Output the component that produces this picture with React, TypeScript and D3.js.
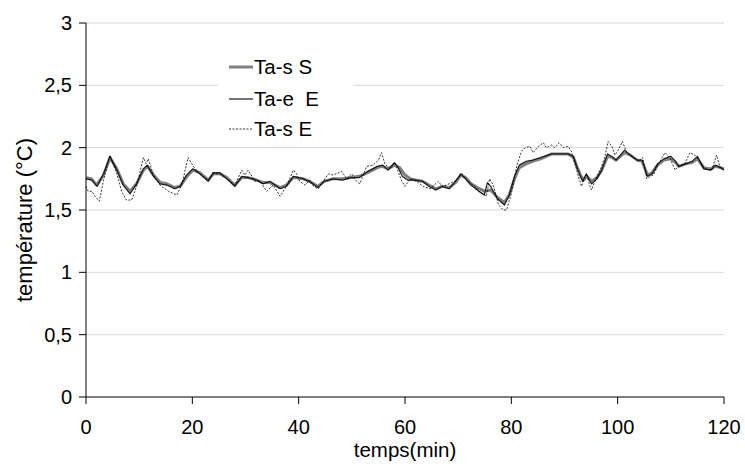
import React from 'react';
import * as d3 from 'd3';

const xTicks = [0, 20, 40, 60, 80, 100, 120];
const yTicks = [0, 0.5, 1, 1.5, 2, 2.5, 3];
const yTickLabels = ['0', '0,5', '1', '1,5', '2', '2,5', '3'];
const seriesNames = ['Ta-s S', 'Ta-e  E', 'Ta-s E'];

// Ta-s S (thick grey)
const tasSTime = [0, 1, 2, 3.3, 4.5, 5.8, 7, 8.3, 9.5, 10.8, 11.6, 12.7, 14, 15.2, 16.7, 17.7, 19, 20.1, 21.4, 23, 24, 25.2, 26.5, 28, 29.3, 30.5, 32.1, 33.3, 34.6, 36.5, 37.7, 39, 40.9, 42, 43.6, 44.8, 46.4, 48.3, 49.8, 51.4, 53, 54.8, 55.8, 56.8, 58, 59, 60, 61, 62, 63.3, 64.5, 65.8, 67, 68.3, 69.5, 70.5, 71.4, 72.4, 73.6, 75, 76.1, 77.4, 78.7, 79.6, 80.6, 81.5, 82.8, 84, 85.5, 87.6, 89.2, 90.7, 91.7, 92.3, 93, 93.6, 94.2, 95.1, 96.1, 97, 98.1, 99, 99.7, 100.5, 101.3, 102.4, 103.7, 104.6, 105.6, 106.5, 107.5, 108.7, 110, 110.9, 111.5, 112.8, 114, 115, 116.2, 117.5, 118.4, 119.3, 120];
const tasSValue = [1.76, 1.75, 1.70, 1.78, 1.92, 1.83, 1.71, 1.65, 1.71, 1.82, 1.85, 1.78, 1.72, 1.71, 1.68, 1.69, 1.77, 1.82, 1.80, 1.74, 1.79, 1.79, 1.76, 1.70, 1.76, 1.76, 1.74, 1.72, 1.72, 1.68, 1.70, 1.76, 1.75, 1.73, 1.69, 1.73, 1.75, 1.75, 1.76, 1.77, 1.80, 1.84, 1.85, 1.83, 1.86, 1.84, 1.78, 1.75, 1.74, 1.73, 1.70, 1.67, 1.69, 1.68, 1.72, 1.78, 1.76, 1.71, 1.68, 1.65, 1.66, 1.60, 1.56, 1.62, 1.75, 1.84, 1.87, 1.89, 1.91, 1.95, 1.95, 1.95, 1.92, 1.85, 1.78, 1.74, 1.77, 1.73, 1.76, 1.82, 1.93, 1.92, 1.90, 1.93, 1.96, 1.94, 1.90, 1.89, 1.78, 1.80, 1.86, 1.90, 1.91, 1.88, 1.85, 1.87, 1.88, 1.91, 1.84, 1.83, 1.85, 1.84, 1.83];

// Ta-e E (thin dark)
const taeETime = [0, 1.1, 2.1, 3.3, 4.5, 5.8, 7, 8.3, 9.5, 10.8, 11.5, 12.7, 13.9, 15.2, 16.7, 17.7, 18.9, 20.1, 21.4, 23, 23.9, 25.2, 26.5, 28, 29.3, 30.5, 32.1, 33.3, 34.6, 36.5, 37.7, 39, 40.9, 42, 43.6, 44.8, 46.4, 48.3, 49.8, 51.4, 53, 54.8, 55.8, 56.8, 58, 58.6, 59.5, 60.5, 62, 63.3, 64.5, 65.8, 67, 68.3, 69.5, 70.5, 71.4, 72.4, 73.6, 74.9, 75.5, 76.1, 77.4, 78.7, 79.6, 80.6, 81.5, 82.8, 84, 85.5, 87.6, 89.2, 90.7, 91.7, 92.3, 93, 93.4, 94.1, 94.8, 95.1, 96.1, 97, 98.1, 98.9, 99.7, 100.5, 101.3, 102.4, 103.7, 104.6, 105.6, 106.5, 107.5, 108.7, 110, 110.9, 111.5, 112.8, 114, 115, 116.2, 117.5, 118.4, 119.3, 120];
const taeEValue = [1.75, 1.74, 1.69, 1.79, 1.93, 1.82, 1.70, 1.63, 1.71, 1.83, 1.86, 1.77, 1.71, 1.70, 1.67, 1.69, 1.78, 1.83, 1.79, 1.73, 1.80, 1.80, 1.75, 1.69, 1.77, 1.76, 1.74, 1.71, 1.73, 1.67, 1.69, 1.77, 1.75, 1.73, 1.68, 1.73, 1.75, 1.74, 1.76, 1.76, 1.81, 1.85, 1.86, 1.82, 1.88, 1.85, 1.77, 1.74, 1.74, 1.73, 1.69, 1.66, 1.69, 1.67, 1.73, 1.79, 1.75, 1.70, 1.66, 1.62, 1.72, 1.69, 1.59, 1.54, 1.62, 1.77, 1.86, 1.89, 1.90, 1.92, 1.95, 1.95, 1.95, 1.93, 1.85, 1.77, 1.73, 1.79, 1.73, 1.71, 1.75, 1.82, 1.95, 1.93, 1.90, 1.94, 1.98, 1.94, 1.90, 1.90, 1.77, 1.79, 1.87, 1.91, 1.93, 1.89, 1.85, 1.87, 1.89, 1.93, 1.83, 1.82, 1.86, 1.84, 1.82];

// Ta-s E (dashed)
const tasETime = [0, 0.4, 1.1, 1.7, 2.5, 3.3, 4.5, 5.8, 6.7, 7.6, 8.6, 9.5, 10.8, 11.3, 11.7, 12.7, 13.9, 15.5, 17.1, 18, 19.2, 20.2, 21.4, 23, 23.9, 25.2, 26.5, 28, 29.3, 29.9, 30.5, 31.8, 32.7, 34, 35.2, 36.5, 37.7, 39, 39.6, 40.2, 41.2, 42.1, 42.8, 43.7, 44.6, 45.6, 46.5, 48.1, 49, 50, 50.9, 51.5, 52.8, 54, 55, 55.6, 56.2, 57.2, 58.1, 59.4, 60, 61, 62.2, 63.4, 64.7, 66.3, 66.9, 67.8, 69.7, 70.7, 71.6, 73.2, 73.8, 74.7, 75.3, 75.9, 76.6, 77.6, 78.5, 79.1, 80, 81, 81.9, 82.6, 83.5, 84.1, 85.1, 86, 86.6, 87.6, 88.2, 89, 89.8, 90.7, 91.3, 92, 92.6, 93.2, 93.7, 94.2, 94.7, 95.1, 95.7, 97, 97.6, 98.2, 98.9, 99.5, 100.1, 100.9, 101.7, 102.9, 103.9, 104.7, 105.5, 106.1, 106.7, 107.7, 108.9, 109.8, 110.8, 111.4, 112.6, 113.6, 114.5, 115.5, 116.4, 117.7, 118.6, 119.2, 120];
const tasEValue = [1.69, 1.65, 1.65, 1.61, 1.57, 1.74, 1.94, 1.79, 1.65, 1.58, 1.58, 1.69, 1.92, 1.87, 1.91, 1.78, 1.70, 1.65, 1.62, 1.70, 1.92, 1.85, 1.79, 1.74, 1.79, 1.79, 1.75, 1.70, 1.82, 1.78, 1.82, 1.73, 1.73, 1.65, 1.70, 1.61, 1.69, 1.82, 1.79, 1.73, 1.70, 1.74, 1.69, 1.67, 1.73, 1.79, 1.78, 1.81, 1.75, 1.79, 1.73, 1.71, 1.85, 1.86, 1.90, 1.96, 1.87, 1.83, 1.88, 1.73, 1.69, 1.75, 1.73, 1.69, 1.67, 1.73, 1.69, 1.70, 1.74, 1.79, 1.74, 1.69, 1.65, 1.63, 1.61, 1.75, 1.70, 1.54, 1.50, 1.50, 1.63, 1.85, 1.97, 2.00, 2.01, 1.96, 2.01, 2.04, 2.00, 2.02, 2.00, 2.04, 2.00, 2.01, 1.97, 1.87, 1.77, 1.69, 1.75, 1.79, 1.70, 1.66, 1.73, 1.85, 1.93, 2.05, 2.01, 1.94, 1.98, 2.05, 1.96, 1.92, 1.89, 1.92, 1.75, 1.77, 1.78, 1.87, 1.96, 1.92, 1.82, 1.85, 1.87, 1.96, 1.94, 1.89, 1.83, 1.82, 1.94, 1.85, 1.82];

const FONT = '"Liberation Sans", Arial, Helvetica, sans-serif';

export default function App() {
  const W = 745;
  const H = 464;
  const x = d3.scaleLinear().domain([0, 120]).range([86, 724]);
  const y = d3.scaleLinear().domain([0, 3]).range([397, 23]);

  const mk = (ts: number[], vs: number[]) => {
    const pts: [number, number][] = ts.map((t, i) => [t, vs[i]]);
    return d3
      .line<[number, number]>()
      .x((d) => x(d[0]))
      .y((d) => y(d[1]))
      .curve(d3.curveLinear)(pts) as string;
  };

  const series = [
    { name: seriesNames[0], d: mk(tasSTime, tasSValue), stroke: '#808080', width: 3, dash: undefined as string | undefined },
    { name: seriesNames[1], d: mk(taeETime, taeEValue), stroke: '#1a1a1a', width: 1.2, dash: undefined as string | undefined },
    { name: seriesNames[2], d: mk(tasETime, tasEValue), stroke: '#000000', width: 0.8, dash: '2,1.5' },
  ];

  const legendRows = [67, 99, 129];

  return (
    <svg width={W} height={H} style={{ position: 'absolute', left: 0, top: 0, background: '#fff' }} fontFamily={FONT}>
      <rect x={0} y={0} width={W} height={H} fill="#fff" />
      {yTicks.slice(1).map((v) => (
        <line key={'g' + v} x1={86} x2={724} y1={y(v)} y2={y(v)} stroke="#d9d9d9" strokeWidth={1} />
      ))}
      {series.map((s) => (
        <path key={s.name} d={s.d} fill="none" stroke={s.stroke} strokeWidth={s.width} strokeDasharray={s.dash} strokeLinejoin="round" />
      ))}
      <rect x={218} y={50} width={135} height={95} fill="#fff" />
      {series.map((s, i) => (
        <g key={'lg' + i}>
          <line x1={229} x2={253} y1={legendRows[i]} y2={legendRows[i]} stroke={s.stroke} strokeWidth={s.width} strokeDasharray={s.dash} />
          <text x={254} y={legendRows[i] + 7} fontSize={20.5} fill="#000" style={{ whiteSpace: 'pre' }}>
            {s.name}
          </text>
        </g>
      ))}
      <line x1={86} x2={86} y1={23} y2={397} stroke="#000" strokeWidth={1} />
      <line x1={86} x2={724} y1={397} y2={397} stroke="#000" strokeWidth={1} />
      {yTicks.map((v, i) => (
        <g key={'yt' + v}>
          <line x1={79} x2={86} y1={y(v)} y2={y(v)} stroke="#000" strokeWidth={1} />
          <text x={72} y={y(v)} textAnchor="end" dominantBaseline="central" fontSize={20} fill="#000">
            {yTickLabels[i]}
          </text>
        </g>
      ))}
      {xTicks.map((v) => (
        <g key={'xt' + v}>
          <line x1={x(v)} x2={x(v)} y1={397} y2={404} stroke="#000" strokeWidth={1} />
          <text x={x(v)} y={434} textAnchor="middle" fontSize={20} fill="#000">
            {v}
          </text>
        </g>
      ))}
      <text x={x(60)} y={457} textAnchor="middle" fontSize={20.5} fill="#000">
        temps(min)
      </text>
      <text transform={`translate(32,220) rotate(-90)`} textAnchor="middle" fontSize={22} fill="#000">
        température (°C)
      </text>
    </svg>
  );
}
